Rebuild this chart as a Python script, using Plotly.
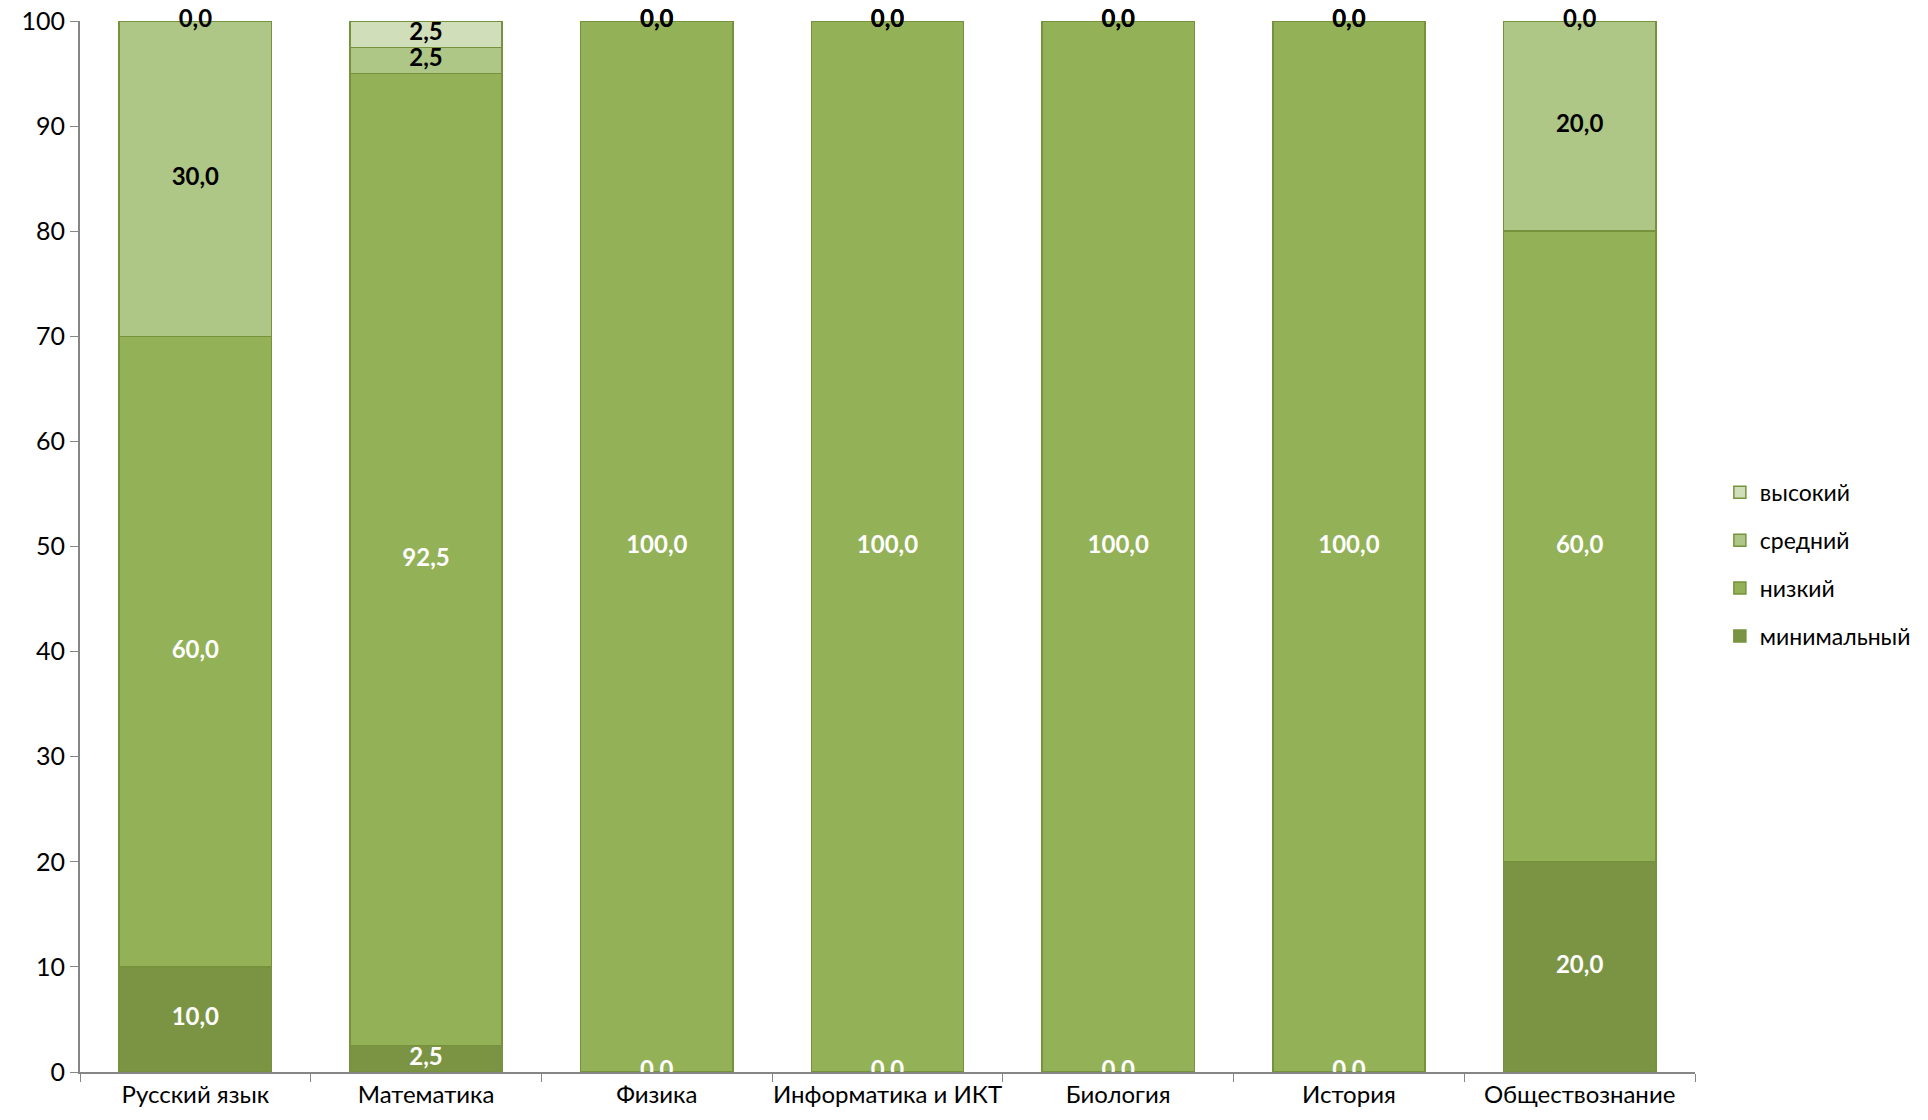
import plotly.graph_objects as go

categories = ["Русский язык", "Математика", "Физика", "Информатика и ИКТ", "Биология", "История", "Обществознание"]
series_names = ["минимальный", "низкий", "средний", "высокий"]
minimal = [10.0, 2.5, 0.0, 0.0, 0.0, 0.0, 20.0]
low = [60.0, 92.5, 100.0, 100.0, 100.0, 100.0, 60.0]
medium = [30.0, 2.5, 0.0, 0.0, 0.0, 0.0, 20.0]
high = [0.0, 2.5, 0.0, 0.0, 0.0, 0.0, 0.0]
y_ticks = [0, 10, 20, 30, 40, 50, 60, 70, 80, 90, 100]

series = [minimal, low, medium, high]
colors = ["#7A9443", "#93B157", "#AEC787", "#D0DEBA"]
label_colors = ["white", "white", "black", "black"]
FONT = "Lato, 'Liberation Sans', sans-serif"

fig = go.Figure()
for i, (name, vals, col) in enumerate(zip(series_names, series, colors)):
    fig.add_trace(go.Bar(
        x=categories, y=vals, name=name, legendgroup=name,
        legendrank=len(series_names) - i,
        marker=dict(color=col, line=dict(color="#76923C", width=1.5)),
        hoverinfo="skip",
    ))

base = [0.0] * len(categories)
for i, (vals, tc) in enumerate(zip(series, label_colors)):
    centers = [b + v / 2 for b, v in zip(base, vals)]
    texts = ["<b>" + f"{v:.1f}".replace(".", ",") + "</b>" for v in vals]
    fig.add_trace(go.Scatter(
        x=categories, y=centers, mode="text", text=texts,
        textfont=dict(family=FONT, size=24, color=tc),
        showlegend=False, hoverinfo="skip", cliponaxis=(i == 0),
    ))
    base = [b + v for b, v in zip(base, vals)]

fig.update_layout(
    barmode="stack",
    bargap=0.34,
    width=1928, height=1120,
    margin=dict(l=80, r=233, t=21, b=48, autoexpand=False),
    plot_bgcolor="white", paper_bgcolor="white",
    font=dict(family=FONT, size=24, color="black"),
    legend=dict(
        x=1.0154, y=0.483, xanchor="left", yanchor="middle",
        traceorder="grouped", font=dict(size=23),
        itemwidth=30, tracegroupgap=15,
    ),
    xaxis=dict(
        showline=True, linecolor="#868686", linewidth=2, automargin=False,
        ticks="outside", tickson="boundaries", ticklen=8, tickcolor="#868686",
        tickfont=dict(size=24), showgrid=False, tickangle=0,
    ),
    yaxis=dict(
        range=[0, 100], tickvals=y_ticks, showline=True, linecolor="#868686", linewidth=2,
        ticks="outside", ticklen=8, tickcolor="#868686", showgrid=False, zeroline=False,
        tickfont=dict(size=25), automargin=False,
    ),
)

fig.write_html(
    "out.html",
    config={"displayModeBar": False},
    post_script="document.body.style.margin='0';document.body.style.overflow='hidden';",
)
